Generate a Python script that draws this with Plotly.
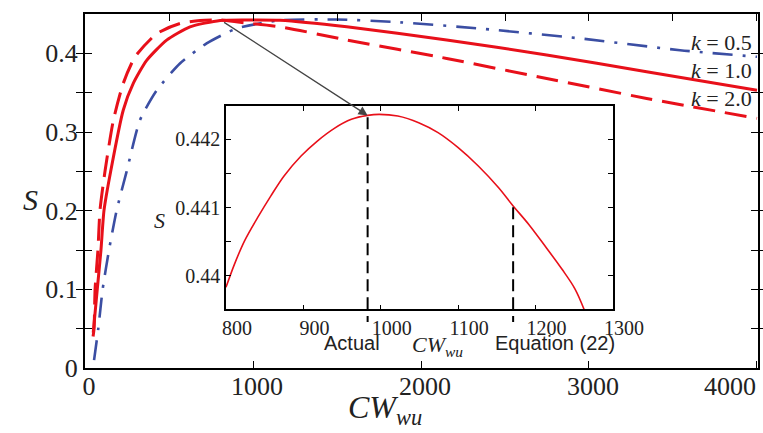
import plotly.graph_objects as go

# ---------------- data ----------------
k05_x = [54, 79, 105, 143, 188, 248, 327, 427, 565, 724, 903, 1160, 1498, 1834, 2351, 2946, 3542, 4000]
k05_s = [0.010, 0.05, 0.10, 0.15, 0.20, 0.25, 0.315, 0.353, 0.387, 0.4126, 0.4315, 0.442, 0.443, 0.440,
         0.4315, 0.419, 0.404, 0.3956]

k10_x = [49, 73, 95, 113, 153, 228, 288, 367, 486, 625, 804, 1000, 1161, 1558, 2153, 2748, 3343, 4000]
k10_s = [0.045, 0.10, 0.15, 0.20, 0.25, 0.328, 0.362, 0.391, 0.4168, 0.4337, 0.4418, 0.4424, 0.442,
         0.4337, 0.417, 0.398, 0.3765, 0.353]

k20_x = [48, 54, 60, 77, 89, 119, 169, 228, 298, 427, 565, 685, 800, 923, 1161, 1558, 2153, 2748, 3343, 4000]
k20_s = [0.040, 0.05, 0.10, 0.15, 0.20, 0.25, 0.315, 0.362, 0.3956, 0.425, 0.438, 0.4418, 0.4425, 0.4395,
         0.4337, 0.417, 0.3935, 0.368, 0.3427, 0.3173]

inset_x = [800, 811, 824, 841, 858, 875, 897, 918, 940, 962, 983, 998, 1022, 1049, 1074, 1100, 1126,
           1152, 1171, 1191, 1212, 1234, 1251, 1263]
inset_s = [0.439829, 0.44017, 0.440511, 0.440854, 0.44117, 0.441463, 0.441756, 0.441975, 0.442161,
           0.442293, 0.442351, 0.442366, 0.442341, 0.442244, 0.442098, 0.441878, 0.441609, 0.441293,
           0.441023, 0.440755, 0.440438, 0.440097, 0.439804, 0.439496]

actual_x, actual_s = 983, 0.442351
eq22_x, eq22_s = 1171, 0.441040

main_xticks = [0, 1000, 2000, 3000, 4000]
main_xlabels = ["0", "1000", "2000", "3000", ""]
main_xlast = "4000"
main_xminor = [0, 500, 1000, 1500, 2000, 2500, 3000, 3500, 4000]
main_yticks = [0, 0.05, 0.1, 0.15, 0.2, 0.25, 0.3, 0.35, 0.4]
main_ylabels = ["0", "", "0.1", "", "0.2", "", "0.3", "", "0.4"]
inset_xticks = [800, 900, 1000, 1100, 1200, 1300]
inset_yticks = [0.44, 0.4405, 0.441, 0.4415, 0.442]
inset_ylabels = ["0.44", "", "0.441", "", "0.442"]

RED = "#e8101a"
BLUE = "#3b4ea3"
SERIF = "Liberation Serif"
SANS = "Liberation Sans"
TXT = "#222"

fig = go.Figure()
fig.add_trace(go.Scatter(x=k05_x, y=k05_s, mode="lines", line=dict(color=BLUE, width=2.6, dash="20px,10px,3px,10px", shape="spline", smoothing=0.6), showlegend=False))
fig.add_trace(go.Scatter(x=k10_x, y=k10_s, mode="lines", line=dict(color=RED, width=3, shape="spline", smoothing=0.6), showlegend=False))
fig.add_trace(go.Scatter(x=k20_x, y=k20_s, mode="lines", line=dict(color=RED, width=3, dash="22px,10px", shape="spline", smoothing=0.6), showlegend=False))
# inset
fig.add_trace(go.Scatter(x=inset_x, y=inset_s, mode="lines", xaxis="x2", yaxis="y2",
                         line=dict(color=RED, width=1.6, shape="spline", smoothing=1.0), showlegend=False))
# invisible trace for top tick axis
fig.add_trace(go.Scatter(x=main_xminor, y=[None] * len(main_xminor), xaxis="x3", mode="lines", showlegend=False, hoverinfo="skip"))

axis_common = dict(showgrid=False, zeroline=False, showline=True, linecolor="black", ticks="inside",
                   tickcolor="black", automargin=False)

fig.update_layout(
    width=763, height=433,
    margin=dict(l=85, r=5, t=14, b=65, autoexpand=False),
    paper_bgcolor="white", plot_bgcolor="white",
    xaxis=dict(**axis_common, range=[0, 4006], tickvals=main_xticks, ticktext=main_xlabels, linewidth=2, ticklen=7,
               mirror=True, ticklabelstandoff=-6, ticklabelshift=4, tickfont=dict(family=SERIF, size=26, color=TXT)),
    xaxis3=dict(showgrid=False, zeroline=False, overlaying="x", side="top", range=[0, 4006], tickvals=main_xminor,
                ticks="inside", ticklen=7, tickcolor="black", showticklabels=False, showline=False, automargin=False),
    yaxis=dict(**axis_common, range=[0, 0.45], tickvals=main_yticks, ticktext=main_ylabels, linewidth=2, ticklen=7,
               mirror="allticks", tickfont=dict(family=SERIF, size=26, color=TXT)),
    xaxis2=dict(**axis_common, domain=[0.2095, 0.7845], anchor="y2", range=[800, 1300], tickvals=inset_xticks,
                linewidth=1.5, ticklen=5, mirror="allticks", ticklabelshift=11,
                tickfont=dict(family=SERIF, size=20, color=TXT)),
    yaxis2=dict(**axis_common, domain=[0.1658, 0.740], anchor="x2", range=[0.439507, 0.442488], tickvals=inset_yticks,
                ticktext=inset_ylabels, linewidth=1.5, ticklen=5, mirror="allticks",
                tickfont=dict(family=SERIF, size=20, color=TXT)),
)

# dashed vertical markers in the inset
for vx, vs in [(actual_x, actual_s), (eq22_x, eq22_s)]:
    fig.add_shape(type="line", xref="x2", yref="y2", x0=vx, x1=vx, y0=0.439507, y1=vs,
                  line=dict(color="black", width=2, dash="12px,6px"))
    fig.add_shape(type="line", xref="x2", yref="y2 domain", x0=vx, x1=vx, y0=-0.0625, y1=0,
                  line=dict(color="black", width=2, dash="6px,6px"))

# arrow from main peak to inset
fig.add_annotation(xref="x2", yref="y2", x=actual_x, y=actual_s, ax=-145, ay=-94, text="", showarrow=True,
                   arrowhead=2, arrowsize=1.4, arrowwidth=1.3, arrowcolor="#444", standoff=0)

# k labels
for txt, yv in [("0.5", 0.4142), ("1.0", 0.378), ("2.0", 0.3425)]:
    fig.add_annotation(xref="x", yref="y", x=3985, y=yv, xanchor="right", yanchor="middle", showarrow=False,
                       text="<i>k</i> = " + txt, font=dict(family=SERIF, size=22, color=TXT))

# last x tick label kept inside the figure
fig.add_annotation(xref="paper", yref="paper", x=1.0, y=-0.051, xanchor="right", yanchor="middle", showarrow=False,
                   text=main_xlast, font=dict(family=SERIF, size=26, color=TXT))


def label(x, y, text, family, size):
    fig.add_annotation(xref="paper", yref="paper", x=x, y=y, xanchor="center", yanchor="middle",
                       showarrow=False, text=text, font=dict(family=family, size=size, color=TXT))


label(-0.0817, 0.4746, "<i>S</i>", SERIF, 30)
label(0.4458, -0.118, "<i>CW<sub>wu</sub></i>", SERIF, 32)
label(0.1114, 0.418, "<i>S</i>", SERIF, 22)
label(0.5245, 0.062, "<i>CW<sub>wu</sub></i>", SERIF, 22)
label(0.3967, 0.0706, "Actual", SANS, 20)
label(0.6984, 0.0706, "Equation (22)", SANS, 20)

fig.write_html("out.html", config={"displayModeBar": False},
               post_script="document.body.style.margin='0';document.body.style.padding='0';"
                           "document.documentElement.style.overflow='hidden';document.body.style.overflow='hidden';")
